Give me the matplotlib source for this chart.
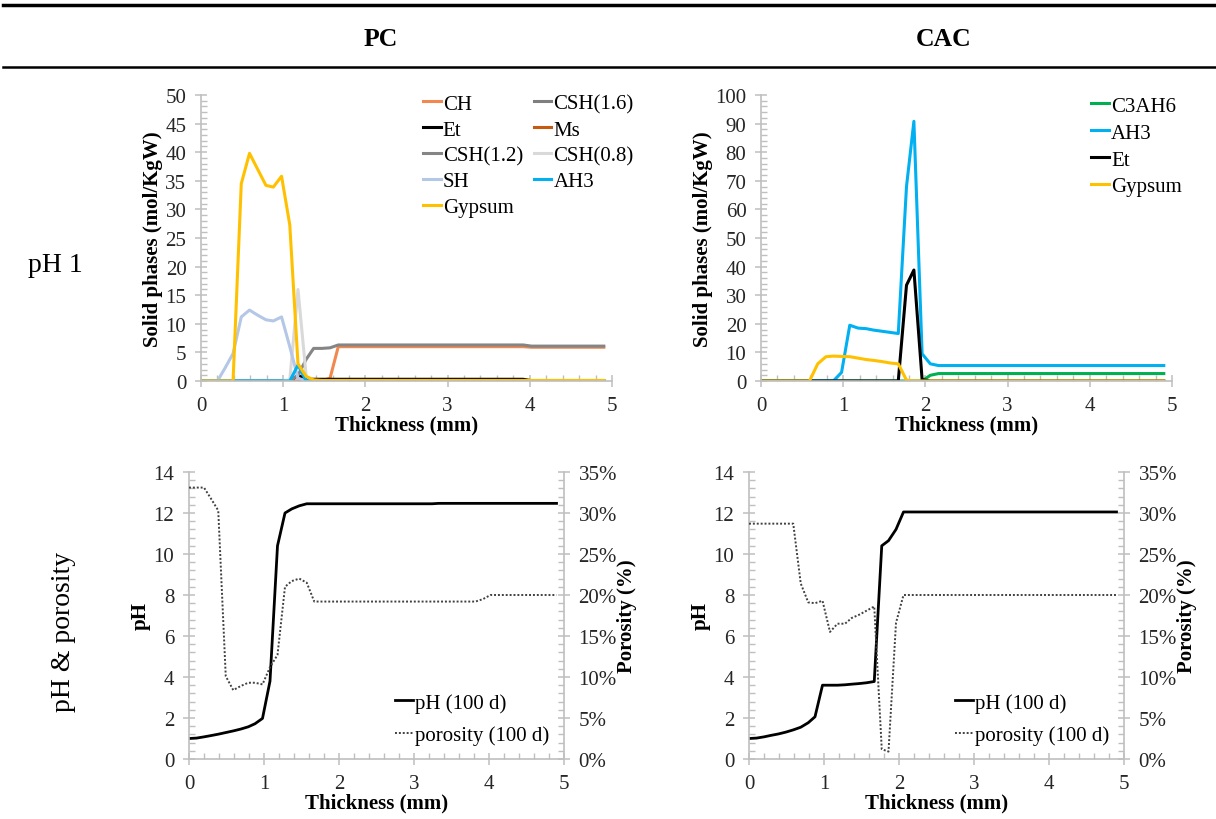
import numpy as np
import matplotlib
matplotlib.use("Agg")
import matplotlib.pyplot as plt
from matplotlib.ticker import MultipleLocator, PercentFormatter

plt.rcParams['font.family'] = ['Liberation Serif', 'DejaVu Serif']

# thickness grid (mm), shared by all series
thickness = [0.00, 0.10, 0.20, 0.29, 0.39, 0.49, 0.59, 0.69, 0.79, 0.88,
             0.98, 1.08, 1.18, 1.28, 1.37, 1.47, 1.57, 1.67, 1.77, 1.86,
             1.96, 2.06, 2.16, 2.26, 2.35, 2.45, 2.55, 2.65, 2.75, 2.84,
             2.94, 3.04, 3.14, 3.24, 3.33, 3.43, 3.53, 3.63, 3.73, 3.82,
             3.92, 4.02, 4.12, 4.22, 4.31, 4.41, 4.51, 4.61, 4.71, 4.80,
             4.90]

# ---- PC, solid phases (mol/KgW)
pc_ch = [0]*16 + [0.5] + [6.0]*24 + [5.9]*10
pc_csh16 = [0]*51
pc_et = [0]*12 + [1.0] + [0.3]*28 + [0.05]*10
pc_ms = [0]*51
pc_csh12 = [0]*12 + [1.0, 3.8, 5.7, 5.7, 5.8] + [6.3]*24 + [6.1]*10
pc_csh08 = [0]*11 + [0.2, 16.0, 0.8] + [0]*37
pc_sh = [0, 0, 0, 2.2, 4.8, 11.2, 12.4, 11.5, 10.7, 10.5, 11.2, 6.0, 0.5] + [0]*38
pc_ah3 = [0]*12 + [2.8] + [0]*38
pc_gypsum = [0, 0, 0, 0, 0, 34.5, 39.8, 37.0, 34.2, 33.9, 35.8, 27.3, 3.0,
             0.8, 0.2] + [0.1]*36

# ---- CAC, solid phases (mol/KgW)
cac_c3ah6 = [0]*21 + [2.0] + [2.6]*29
cac_ah3 = [0]*10 + [3.0, 19.5, 18.5, 18.3, 17.8, 17.4, 17.0, 16.6, 68.0, 90.8,
                    9.5, 6.0] + [5.4]*29
cac_et = [0]*18 + [33.5, 38.8, 0.5] + [0]*30
cac_gypsum = [0]*7 + [6.0, 8.5, 8.7, 8.6, 8.5, 8.0, 7.5, 7.2, 6.8, 6.3, 6.0,
                      0.3] + [0]*32

# ---- pH and porosity (100 d)
pc_ph = [1.0, 1.02, 1.08, 1.14, 1.21, 1.29, 1.37, 1.46, 1.57, 1.72, 1.98,
         3.8, 10.4, 12.0, 12.2, 12.35, 12.45] + [12.45]*17 + [12.47]*17
pc_por = [33.1, 33.1, 33.1, 31.8, 30.3, 10.1, 8.4, 8.9, 9.3, 9.3, 9.1, 11.2,
          12.7, 21.0, 21.7, 22.0, 21.5, 19.2] + [19.2]*22 + [19.5] + [20.0]*10
cac_ph = [1.0, 1.02, 1.08, 1.15, 1.22, 1.31, 1.42, 1.55, 1.77, 2.06, 3.6,
          3.6, 3.6, 3.62, 3.65, 3.68, 3.72, 3.78, 10.4, 10.65, 11.2,
          12.05] + [12.05]*29
cac_por = [28.7]*7 + [21.4, 19.1, 19.0, 19.3, 15.5, 16.5, 16.5, 17.2, 17.6,
                      18.1, 18.6, 1.2, 0.9, 16.6, 20.0] + [20.0]*29

W, H = 1216, 820
fig = plt.figure(figsize=(W/100, H/100), dpi=100)

GRID = '#bfbfbf'
TXT = '#262626'
TICK_FS = 15
LAB_FS = 15


def tick_style(ax):
    ax.tick_params(which='major', direction='inout', length=9, width=1.1,
                   color=GRID, labelsize=TICK_FS, labelcolor=TXT, pad=6)
    ax.tick_params(which='minor', direction='in', length=4, width=1.0,
                   color=GRID)


def style_axis(ax, xmax, ymaj, ymin):
    ax.set_xlim(0, xmax)
    ax.xaxis.set_major_locator(MultipleLocator(1))
    ax.xaxis.set_minor_locator(MultipleLocator(0.2))
    ax.yaxis.set_major_locator(MultipleLocator(ymaj))
    ax.yaxis.set_minor_locator(MultipleLocator(ymin))
    for s in ['top', 'right']:
        ax.spines[s].set_visible(False)
    for s in ['left', 'bottom']:
        ax.spines[s].set_color(GRID)
        ax.spines[s].set_linewidth(1.2)
    tick_style(ax)
    ax.set_xlabel('Thickness (mm)', fontsize=LAB_FS, fontweight='bold',
                  labelpad=0)


# ---- top left: PC solid phases
ax1 = fig.add_axes([201/W, 1-382/H, 411/W, 286/H])
pc_series = [
    ('CH', pc_ch, '#f0884f'),
    ('CSH(1.6)', pc_csh16, '#7f7f7f'),
    ('Et', pc_et, '#000000'),
    ('Ms', pc_ms, '#c55a11'),
    ('CSH(1.2)', pc_csh12, '#858585'),
    ('CSH(0.8)', pc_csh08, '#d9d9d9'),
    ('SH', pc_sh, '#b4c7e7'),
    ('AH3', pc_ah3, '#00b0f0'),
    ('Gypsum', pc_gypsum, '#ffc000'),
]
lines = {}
for name, vals, col in pc_series:
    lines[name], = ax1.plot(thickness, vals, color=col, lw=2.2, label=name)
style_axis(ax1, 5, 5, 1)
ax1.set_ylim(0, 50)
ax1.set_ylabel('Solid phases (mol/KgW)', fontsize=LAB_FS, fontweight='bold',
               labelpad=2)
order = ['CH', 'Et', 'CSH(1.2)', 'SH', 'Gypsum', 'CSH(1.6)', 'Ms', 'CSH(0.8)', 'AH3']
ax1.legend([lines[n] for n in order], order, ncol=2, frameon=False,
           loc='upper left', bbox_to_anchor=(0.52, 1.032), fontsize=15,
           handlelength=0.85, handletextpad=0.1, columnspacing=0.5,
           labelspacing=0.3, borderaxespad=0)

# ---- top right: CAC solid phases
ax2 = fig.add_axes([761/W, 1-382/H, 411/W, 286/H])
cac_series = [
    ('C3AH6', cac_c3ah6, '#00b050'),
    ('AH3', cac_ah3, '#00b0f0'),
    ('Et', cac_et, '#000000'),
    ('Gypsum', cac_gypsum, '#ffc000'),
]
for name, vals, col in cac_series:
    ax2.plot(thickness, vals, color=col, lw=2.2, label=name)
style_axis(ax2, 5, 10, 2)
ax2.set_ylim(0, 100)
ax2.set_ylabel('Solid phases (mol/KgW)', fontsize=LAB_FS, fontweight='bold',
               labelpad=2)
ax2.legend(frameon=False, loc='upper left', bbox_to_anchor=(0.783, 1.025),
           fontsize=15, handlelength=0.85, handletextpad=0.1,
           labelspacing=0.35, borderaxespad=0)


# ---- bottom: pH & porosity
def ph_panel(left, ph, por):
    ax = fig.add_axes([left/W, 1-760/H, 375/W, 287/H])
    l1, = ax.plot(thickness, ph, color='black', lw=2.0)
    style_axis(ax, 5, 2, 0.4)
    ax.set_ylim(0, 14)
    ax.set_ylabel('pH', fontsize=LAB_FS, fontweight='bold', labelpad=2)
    axr = ax.twinx()
    l2, = axr.plot(thickness, np.array(por)/100, color='#404040', lw=1.4,
                   linestyle=(0, (1, 1)))
    axr.set_ylim(0, 0.35)
    axr.yaxis.set_major_locator(MultipleLocator(0.05))
    axr.yaxis.set_minor_locator(MultipleLocator(0.01))
    axr.yaxis.set_major_formatter(PercentFormatter(1.0, decimals=0))
    for s in ['top', 'left', 'bottom']:
        axr.spines[s].set_visible(False)
    axr.spines['right'].set_color(GRID)
    axr.spines['right'].set_linewidth(1.2)
    tick_style(axr)
    axr.set_ylabel('Porosity (%)', fontsize=LAB_FS, fontweight='bold',
                   labelpad=0)
    ax.legend([l1, l2], ['pH (100 d)', 'porosity (100 d)'], frameon=False,
              loc='lower left', bbox_to_anchor=(0.527, 0.02), fontsize=15,
              handlelength=0.85, handletextpad=0.1, labelspacing=0.6,
              borderaxespad=0)
    return ax


ph_panel(189, pc_ph, pc_por)
ph_panel(749, cac_ph, cac_por)

# ---- table-like header and row labels
fig.add_artist(plt.Line2D([3/W, 1], [1-6/H, 1-6/H], color='black', lw=2.5))
fig.add_artist(plt.Line2D([3/W, 1], [1-68/H, 1-68/H], color='black', lw=1.8))
fig.text(381/W, 1-40/H, 'PC', ha='center', va='center', fontsize=18.5,
         fontweight='bold')
fig.text(944/W, 1-40/H, 'CAC', ha='center', va='center', fontsize=18.5,
         fontweight='bold')
fig.text(55/W, 1-265/H, 'pH 1', ha='center', va='center', fontsize=20)
fig.text(63/W, 1-632/H, 'pH & porosity', ha='center', va='center',
         fontsize=20, rotation=90)

fig.savefig('out.png', dpi=100)
